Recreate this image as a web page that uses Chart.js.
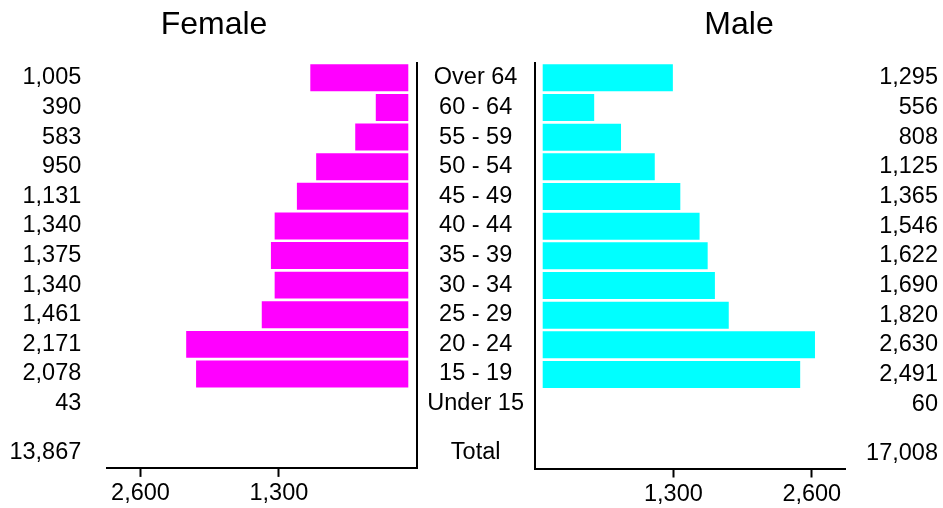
<!DOCTYPE html>
<html>
<head>
<meta charset="utf-8">
<script src="https://cdn.jsdelivr.net/npm/chart.js@4.4.1/dist/chart.umd.min.js"></script>
<style>
  html, body { margin: 0; padding: 0; background: #ffffff; }
  #wrap { position: relative; width: 943px; height: 508px; }
  #wrap canvas { position: absolute; left: 0; top: 0; }
</style>
</head>
<body>
<div id="wrap">
  <canvas id="femaleChart" width="943" height="508"></canvas>
  <canvas id="maleChart" width="943" height="508"></canvas>
</div>
<script>
// ---- data ----
const ageGroups = ['Over 64', '60 - 64', '55 - 59', '50 - 54', '45 - 49', '40 - 44',
                   '35 - 39', '30 - 34', '25 - 29', '20 - 24', '15 - 19', 'Under 15'];
const femaleValues = [1005, 390, 583, 950, 1131, 1340, 1375, 1340, 1461, 2171, 2078, 43];
const maleValues   = [1295, 556, 808, 1125, 1365, 1546, 1622, 1690, 1820, 2630, 2491, 60];
const xTickValues  = [1300, 2600];
const totalLabel   = 'Total';
const femaleTitle  = 'Female';
const maleTitle    = 'Male';

// ---- layout / style constants ----
const FONT = "'Liberation Sans', Arial, sans-serif";
const LABEL_SIZE = 23.5;
const X_MAX = 2912;
const Y_MIN = -0.5;
const Y_MAX = 13.17;
const TOTAL_GAP = 1.66;   // rows between last age group and Total row

Chart.defaults.font.family = FONT;
Chart.defaults.color = '#000000';

const fmt = v => Number(v).toLocaleString('en-US');
const sum = arr => arr.reduce((a, b) => a + b, 0);

const yTicks = scale => {
  const t = ageGroups.map((_, i) => ({ value: i }));
  t.push({ value: ageGroups.length - 1 + TOTAL_GAP });
  scale.ticks = t;
};
const xTicks = scale => { scale.ticks = xTickValues.map(v => ({ value: v })); };

const panelDecor = {
  id: 'panelDecor',
  beforeDatasetsDraw(chart, args, opts) {
    const a = chart.chartArea, ctx = chart.ctx;
    ctx.save();
    ctx.beginPath();
    if (opts.gapSide === 'right') ctx.rect(a.left, a.top, a.width - opts.gap, a.height);
    else ctx.rect(a.left + opts.gap, a.top, a.width - opts.gap, a.height);
    ctx.clip();
  },
  afterDatasetsDraw(chart) { chart.ctx.restore(); },
  afterDraw(chart, args, opts) {
    const ctx = chart.ctx;
    ctx.save();
    ctx.font = '32px ' + FONT;
    ctx.fillStyle = '#000';
    ctx.textAlign = 'center';
    ctx.textBaseline = 'alphabetic';
    ctx.fillText(opts.title, opts.titleX, opts.titleY);
    ctx.restore();
  }
};

function baseX(reverse) {
  return {
    type: 'linear', position: 'bottom', reverse: reverse, min: 0, max: X_MAX, offset: false,
    afterBuildTicks: xTicks,
    afterFit: s => { s.height = 39.5; },
    grid: { display: true, drawOnChartArea: false, drawTicks: true, tickLength: 9, tickWidth: 2, tickColor: '#000', offset: false },
    border: { display: true, color: '#000', width: 2 },
    ticks: { font: { size: LABEL_SIZE }, padding: 3, maxRotation: 0, autoSkip: false, callback: v => fmt(v) }
  };
}
function baseY(position) {
  return {
    type: 'linear', axis: 'y', position: position, reverse: true, min: Y_MIN, max: Y_MAX,
    offset: false,
    afterBuildTicks: yTicks,
    grid: { display: false, drawTicks: false, offset: false },
    border: { display: false },
    ticks: { font: { size: LABEL_SIZE }, autoSkip: false }
  };
}

// ---- Female panel ----
const fValueAxis = baseY('left');
fValueAxis.afterFit = s => { s.width = 107.3; };
fValueAxis.ticks.padding = 26;
fValueAxis.ticks.callback = (v, i) => i < femaleValues.length ? fmt(femaleValues[i]) : fmt(sum(femaleValues));

const fCatAxis = baseY('right');
fCatAxis.afterFit = s => { s.width = 118.7; };
fCatAxis.border = { display: true, color: '#000', width: 2 };
fCatAxis.ticks.padding = 10;
fCatAxis.ticks.crossAlign = 'center';
fCatAxis.ticks.callback = (v, i) => i < ageGroups.length ? ageGroups[i] : totalLabel;

new Chart(document.getElementById('femaleChart'), {
  type: 'bar',
  data: {
    datasets: [{
      label: femaleTitle,
      data: femaleValues.map((v, i) => ({ x: v, y: i })),
      backgroundColor: '#ff00ff',
      borderWidth: 0,
      barPercentage: 0.91,
      categoryPercentage: 1,
      xAxisID: 'x', yAxisID: 'yc'
    }]
  },
  options: {
    responsive: false, animation: false, devicePixelRatio: 1,
    indexAxis: 'y',
    layout: { padding: { top: 63, left: 0, right: 407, bottom: 0 } },
    plugins: {
      legend: { display: false }, tooltip: { enabled: false }, title: { display: false },
      panelDecor: { gapSide: 'right', gap: 9, title: femaleTitle, titleX: 214, titleY: 34 }
    },
    scales: { x: baseX(true), yv: fValueAxis, yc: fCatAxis }
  },
  plugins: [panelDecor]
});

// ---- Male panel ----
const mInnerAxis = baseY('left');
mInnerAxis.afterFit = s => { s.width = 0; };
mInnerAxis.ticks.display = false;
mInnerAxis.border = { display: true, color: '#000', width: 2 };

const mValueAxis = baseY('right');
mValueAxis.afterFit = s => { s.width = 93; };
mValueAxis.ticks.padding = 16;
mValueAxis.ticks.crossAlign = 'far';
mValueAxis.ticks.callback = (v, i) => i < maleValues.length ? fmt(maleValues[i]) : fmt(sum(maleValues));

new Chart(document.getElementById('maleChart'), {
  type: 'bar',
  data: {
    datasets: [{
      label: maleTitle,
      data: maleValues.map((v, i) => ({ x: v, y: i })),
      backgroundColor: '#00ffff',
      borderWidth: 0,
      barPercentage: 0.91,
      categoryPercentage: 1,
      xAxisID: 'x', yAxisID: 'yv'
    }]
  },
  options: {
    responsive: false, animation: false, devicePixelRatio: 1,
    indexAxis: 'y',
    layout: { padding: { top: 63, left: 535, right: 5, bottom: 0 } },
    plugins: {
      legend: { display: false }, tooltip: { enabled: false }, title: { display: false },
      panelDecor: { gapSide: 'left', gap: 7.7, title: maleTitle, titleX: 739, titleY: 34 }
    },
    scales: { x: baseX(false), yi: mInnerAxis, yv: mValueAxis }
  },
  plugins: [panelDecor]
});
</script>
</body>
</html>
